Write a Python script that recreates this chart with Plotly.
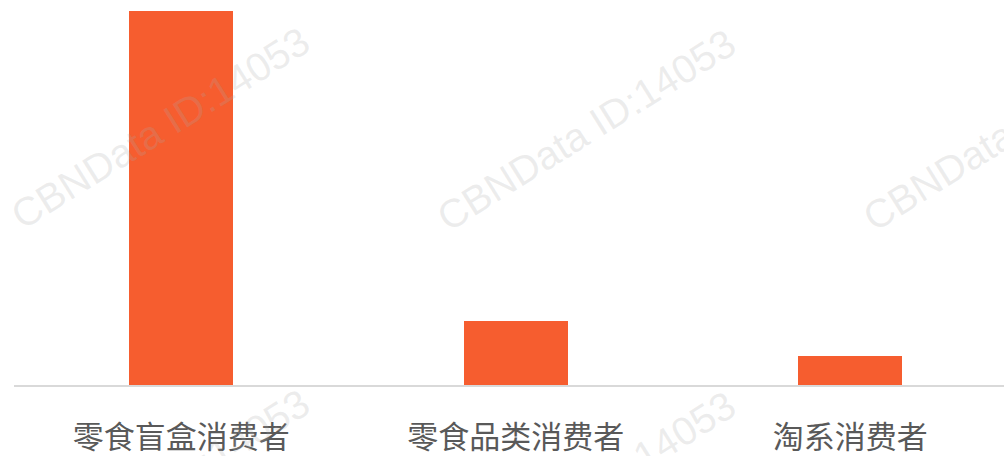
import plotly.graph_objects as go

categories = ["零食盲盒消费者", "零食品类消费者", "淘系消费者"]
values = [12.9, 2.2, 1.0]
watermark_text = "CBNData ID:14053"

fig = go.Figure()
fig.add_trace(go.Bar(
    x=categories, y=values,
    marker=dict(color="#F65D2F", line=dict(width=0)),
    width=0.311,
))

# watermarks (paper coords)
W, H = 1004, 456
ml, mr, mt, mb = 14, 0, 11, 71
pw, ph = W - ml - mr, H - mt - mb
def px2paper(x, y):
    return (x - ml) / pw, 1 - (y - mt) / ph
for (cx, cy) in [(160, 128), (586, 130), (1012, 130), (160, 490), (586, 492)]:
    px, py = px2paper(cx, cy)
    fig.add_annotation(
        x=px, y=py, xref="paper", yref="paper", text=watermark_text,
        showarrow=False, textangle=-32,
        font=dict(family="Liberation Sans, Arial", size=40, color="rgba(170,170,170,0.22)"),
        xanchor="center", yanchor="middle",
    )

fig.update_layout(
    template="none",
    width=W, height=H,
    margin=dict(l=ml, r=mr, t=mt, b=mb, autoexpand=False),
    paper_bgcolor="white", plot_bgcolor="white",
    showlegend=False,
    bargap=0,
)
fig.update_xaxes(
    automargin=False,
    range=[-0.5, -0.5 + pw / 334.5],
    showline=True, linecolor="#d9d9d9", linewidth=2,
    showgrid=False, ticks="", zeroline=False,
    tickfont=dict(family="Noto Sans CJK SC", size=31, color="#595959"),
    ticklabelstandoff=24,
)
fig.update_yaxes(automargin=False, range=[0, 12.9], visible=False, showgrid=False, zeroline=False)

fig.write_html(
    "out.html",
    config={"displayModeBar": False},
    post_script="document.body.style.margin='0';document.body.style.overflow='hidden';",
)
